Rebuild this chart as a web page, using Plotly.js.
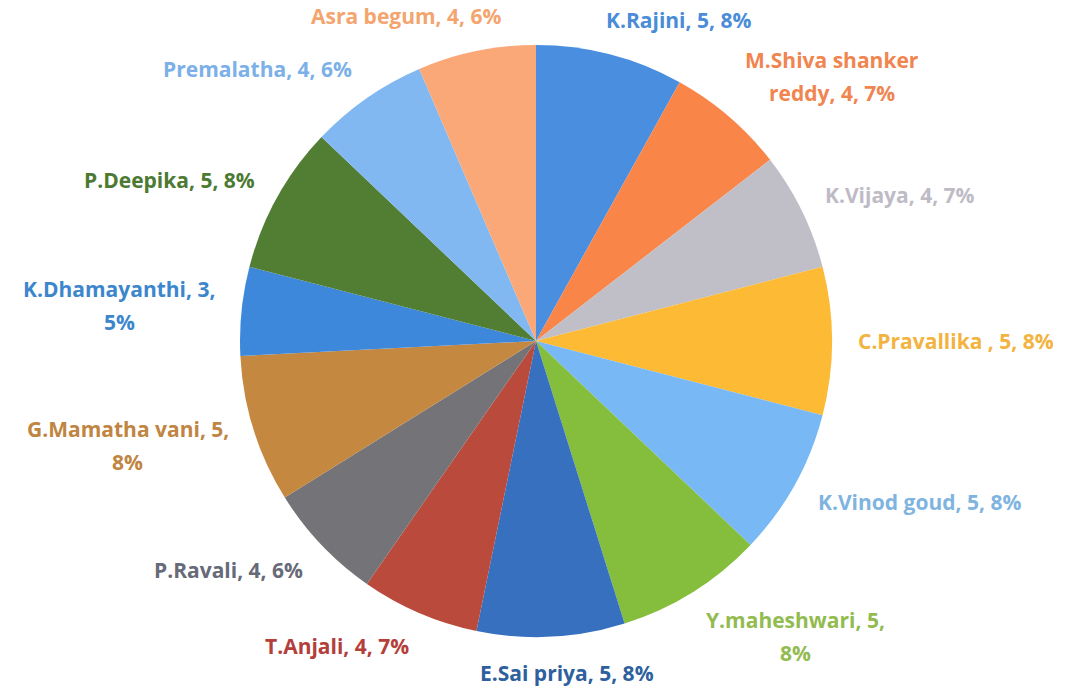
<!DOCTYPE html>
<html>
<head>
<meta charset="utf-8">
<script src="https://cdn.plot.ly/plotly-3.0.1.min.js"></script>
<style>
  html, body { margin: 0; padding: 0; background: #ffffff; }
  #chart { width: 1068px; height: 686px; }
</style>
</head>
<body>
<div id="chart"></div>
<script>
// ---- data ----
const names = ["K.Rajini", "M.Shiva shanker reddy", "K.Vijaya", "C.Pravallika ", "K.Vinod goud",
  "Y.maheshwari", "E.Sai priya", "T.Anjali", "P.Ravali", "G.Mamatha vani",
  "K.Dhamayanthi", "P.Deepika", "Premalatha", "Asra begum"];
const values = [5, 4, 4, 5, 5, 5, 5, 4, 4, 5, 3, 5, 4, 4];
const pctLabels = ["8%", "7%", "7%", "8%", "8%", "8%", "8%", "7%", "6%", "8%", "5%", "8%", "6%", "6%"];
// words on first line when a label wraps (0 = single line)
const wrapWords = [0, 2, 0, 0, 0, 2, 0, 0, 0, 3, 2, 0, 0, 0];

// ---- styles ----
const sliceColors = ["#4A8EE0", "#FA8548", "#C0BFC8", "#FDBA35", "#78B8F5", "#85BE3C", "#3670BE",
  "#BA4A3C", "#747478", "#C48840", "#3D88DA", "#527E34", "#82B8F2", "#FBA878"];
const textColors = ["#4A8CD8", "#F08550", "#BEBBC6", "#F2B340", "#80B4E0", "#92BB50", "#2E5F9E",
  "#B33E3A", "#676A78", "#C08542", "#3C86CC", "#4C7A32", "#7CB0E8", "#F4A46E"];

const W = 1068, H = 686;
const cx = 536, cy = 341, R = 296;   // pie placement in pixels
const gap = 26, lineH = 33, fontSize = 21;
const fontFamily = "'Open Sans', sans-serif";

const canvas = document.createElement("canvas");
const ctx = canvas.getContext("2d");
ctx.font = "bold " + fontSize + "px 'Open Sans'";

const total = values.reduce((a, b) => a + b, 0);
const annotations = [];
let cum = 0;
values.forEach((v, i) => {
  const mid = (cum + v / 2) / total * 2 * Math.PI;
  cum += v;
  const s = Math.sin(mid), c = Math.cos(mid);
  const full = names[i] + ", " + v + ", " + pctLabels[i];
  const words = full.split(" ");
  let lines = [full];
  if (wrapWords[i] > 0) {
    lines = [words.slice(0, wrapWords[i]).join(" "), words.slice(wrapWords[i]).join(" ")];
  }
  const w = Math.max(...lines.map(l => ctx.measureText(l).width));
  const h = 20 + lineH * (lines.length - 1);
  const px = cx + (R + gap) * s;
  const py = cy - (R + gap) * c;
  const f = Math.max(-1, Math.min(1, 3.4 * s));
  const ccx = px + f * w / 2;
  const ccy = py - c * h / 2;
  lines.forEach((ln, k) => {
    const ly = ccy - h / 2 + 10 + k * lineH;
    annotations.push({
      text: "<b>" + ln + "</b>",
      x: ccx / W, y: 1 - ly / H, xref: "paper", yref: "paper",
      xanchor: "center", yanchor: "middle", showarrow: false,
      font: { family: fontFamily, size: fontSize, color: textColors[i] }
    });
  });
});

const trace = {
  type: "pie",
  labels: names,
  values: values,
  sort: false,
  direction: "clockwise",
  rotation: 0,
  textinfo: "none",
  hoverinfo: "label+value+percent",
  marker: { colors: sliceColors, line: { width: 0 } },
  domain: {
    x: [(cx - R) / W, (cx + R) / W],
    y: [(H - cy - R) / H, (H - cy + R) / H]
  },
  automargin: false
};

const layout = {
  width: W, height: H,
  margin: { l: 0, r: 0, t: 0, b: 0 },
  paper_bgcolor: "#ffffff",
  plot_bgcolor: "#ffffff",
  showlegend: false,
  annotations: annotations
};

Plotly.newPlot("chart", [trace], layout, { displayModeBar: false, staticPlot: true });
</script>
</body>
</html>
